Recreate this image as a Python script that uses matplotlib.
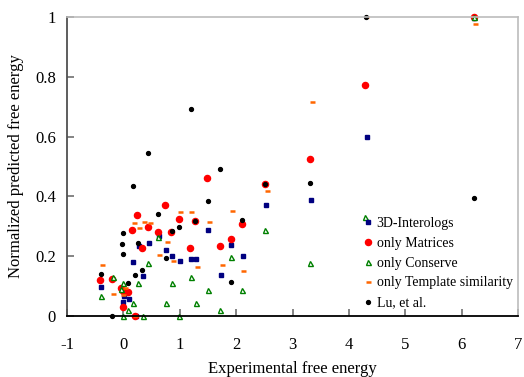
import matplotlib
matplotlib.use("Agg")
import matplotlib.pyplot as plt

plt.rcParams['font.family'] = ['Liberation Serif', 'DejaVu Serif']
plt.rcParams['axes.unicode_minus'] = False

# 3D-Interologs
inter_x = [-0.405, 0.0, 0.01, 0.09, 0.163, 0.22, 0.275, 0.34, 0.447, 0.625, 0.75, 0.855,
           0.998, 1.19, 1.28, 1.495, 1.73, 1.90, 2.12, 2.53, 3.32, 4.31, 6.22]
inter_y = [0.098, 0.045, 0.065, 0.055, 0.182, 0.0, 0.235, 0.135, 0.245, 0.269, 0.222, 0.2,
           0.185, 0.192, 0.192, 0.289, 0.138, 0.238, 0.202, 0.372, 0.389, 0.599, 0.997]

# only Matrices
matr_x = [-0.417, -0.2, -0.04, 0.0, 0.0, 0.085, 0.157, 0.2, 0.245, 0.334, 0.44, 0.607, 0.74,
          0.85, 0.98, 1.18, 1.275, 1.48, 1.71, 1.90, 2.10, 2.51, 3.31, 4.29, 6.22]
matr_y = [0.12, 0.124, 0.094, 0.083, 0.029, 0.08, 0.288, 0.0, 0.338, 0.227, 0.298, 0.282, 0.372,
          0.28, 0.325, 0.227, 0.318, 0.46, 0.233, 0.258, 0.308, 0.44, 0.524, 0.772, 1.0]

# only Conserve
cons_x = [-0.405, -0.19, -0.04, 0.0, 0.0, 0.085, 0.163, 0.257, 0.34, 0.44, 0.62, 0.755,
          0.856, 0.985, 1.19, 1.28, 1.495, 1.72, 1.90, 2.10, 2.51, 3.31, 4.29, 6.22]
cons_y = [0.067, 0.13, 0.089, 0.111, 0.0, 0.021, 0.043, 0.11, 0.0, 0.176, 0.265, 0.043,
          0.11, 0.0, 0.13, 0.043, 0.088, 0.021, 0.197, 0.088, 0.288, 0.176, 0.332, 1.0]

# only Template similarity
temp_x = [-0.387, -0.18, 0.0, 0.03, 0.187, 0.21, 0.275, 0.36, 0.465, 0.636, 0.767, 0.88,
          1.01, 1.20, 1.30, 1.51, 1.74, 1.92, 2.12, 2.54, 3.34, 4.30, 6.24]
temp_y = [0.171, 0.075, 0.069, 0.093, 0.311, 0.001, 0.294, 0.314, 0.311, 0.204, 0.247, 0.185,
          0.349, 0.349, 0.165, 0.314, 0.171, 0.352, 0.150, 0.417, 0.717, 1.0, 0.977]

# Lu, et al.
lu_x = [-0.405, -0.2, -0.03, 0.0, 0.0, 0.085, 0.163, 0.2, 0.257, 0.334, 0.44, 0.613, 0.75,
        0.855, 0.985, 1.19, 1.275, 1.495, 1.72, 1.90, 2.10, 2.51, 3.31, 4.30, 6.22]
lu_y = [0.141, 0.0, 0.241, 0.279, 0.206, 0.111, 0.434, 0.136, 0.245, 0.154, 0.546, 0.341, 0.194,
        0.285, 0.299, 0.693, 0.318, 0.384, 0.493, 0.114, 0.322, 0.44, 0.444, 1.0, 0.394]

fig = plt.figure(figsize=(5.24, 3.77), dpi=100)
ax = fig.add_axes([0.128, 0.162, 0.861, 0.793])

ax.plot(inter_x, inter_y, 's', color='#000080', markersize=3.4, linestyle='None',
        label='3D-Interologs', clip_on=False)
ax.plot(matr_x, matr_y, 'o', color='#ff0000', markersize=4.4, linestyle='None',
        label='only Matrices', clip_on=False)
ax.plot(cons_x, cons_y, '^', markerfacecolor='white', markeredgecolor='#008000',
        markeredgewidth=1.0, markersize=3.6, linestyle='None', label='only Conserve', clip_on=False)
ax.plot(temp_x, temp_y, '_', color='#ff6600', markersize=3.6, markeredgewidth=1.8,
        linestyle='None', label='only Template similarity', clip_on=False)
ax.plot(lu_x, lu_y, 'o', color='black', markersize=2.8, linestyle='None',
        label='Lu, et al.', clip_on=False)

ax.set_xlim(-1, 7)
ax.set_ylim(0, 1)
ax.set_xticks(range(-1, 8))
ax.set_yticks([0, 0.2, 0.4, 0.6, 0.8, 1])
ax.set_yticklabels(['0', '0.2', '0.4', '0.6', '0.8', '1'])

ax.spines['left'].set_color('#505050')
ax.spines['left'].set_linewidth(1.3)
ax.spines['bottom'].set_color('black')
ax.spines['bottom'].set_linewidth(1.3)
ax.spines['top'].set_color('#bcbcbc')
ax.spines['top'].set_linewidth(1.2)
ax.spines['right'].set_color('#bcbcbc')
ax.spines['right'].set_linewidth(1.2)
ax.tick_params(direction='in', length=5, width=1.2, color='#707070', labelsize=12)
ax.tick_params(axis='y', pad=8)
ax.tick_params(axis='x', pad=15)

ax.set_xlabel('Experimental free energy', fontsize=12, labelpad=6)
ax.set_ylabel('Normalized predicted free energy', fontsize=12, labelpad=8)

ax.legend(loc='center left', bbox_to_anchor=(0.657, 0.177), frameon=False, fontsize=10,
          handlelength=0.6, handletextpad=0.35, labelspacing=0.5, borderpad=0,
          borderaxespad=0, numpoints=1)

fig.savefig('out.png', dpi=100)
